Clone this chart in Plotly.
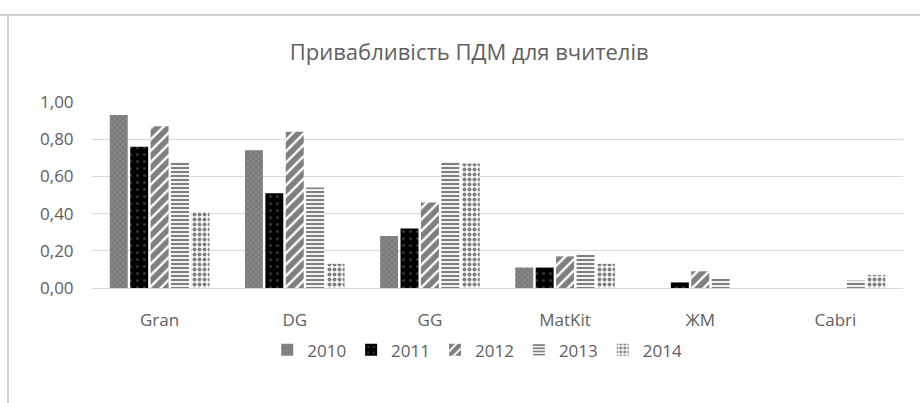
import plotly.graph_objects as go

categories = ["Gran", "DG", "GG", "MatKit", "ЖМ", "Cabri"]
years = ["2010", "2011", "2012", "2013", "2014"]
v2010 = [0.93, 0.74, 0.28, 0.11, 0.00, 0.00]
v2011 = [0.76, 0.51, 0.32, 0.11, 0.03, 0.00]
v2012 = [0.87, 0.84, 0.46, 0.17, 0.09, 0.00]
v2013 = [0.68, 0.54, 0.68, 0.18, 0.05, 0.04]
v2014 = [0.41, 0.13, 0.67, 0.13, 0.00, 0.07]
series = [v2010, v2011, v2012, v2013, v2014]

patterns = [
    dict(shape="x", bgcolor="#7a7a7a", fgcolor="#b0b0b0", size=4, solidity=0.3),
    dict(shape=".", bgcolor="#000000", fgcolor="#6a6a6a", size=7, solidity=0.15),
    dict(shape="/", bgcolor="#ffffff", fgcolor="#000000", size=8, solidity=0.7),
    dict(shape="-", bgcolor="#ffffff", fgcolor="#000000", size=4, solidity=0.55),
    dict(shape=".", bgcolor="#ffffff", fgcolor="#000000", size=5, solidity=0.5),
]

FONT = "Open Sans"
GRAY = "#606060"

fig = go.Figure()
for name, vals, pat in zip(years, series, patterns):
    fig.add_trace(go.Bar(
        x=categories, y=vals, name=name,
        marker=dict(pattern=pat, line=dict(width=0)),
    ))

fig.update_layout(
    width=920, height=403,
    margin=dict(l=92, r=17, t=102, b=115),
    paper_bgcolor="white", plot_bgcolor="white",
    separators=", ",
    barmode="group", bargap=0.245, bargroupgap=0.12,
    title=dict(text="Привабливість ПДМ для вчителів", x=0.51, xanchor="center",
               y=1 - 52 / 403, yanchor="middle",
               font=dict(family=FONT, size=22, color=GRAY)),
    font=dict(family=FONT, color=GRAY),
    legend=dict(orientation="h", x=0.475, xanchor="center", y=-0.335, yanchor="middle",
                font=dict(size=17, color=GRAY), itemwidth=30, traceorder="normal",
                tracegroupgap=0),
    showlegend=True,
)
fig.update_yaxes(range=[0, 1.0001], dtick=0.2, tickformat=".2f",
                 showgrid=True, gridcolor="#d9d9d9", gridwidth=1,
                 zeroline=False, showline=False,
                 ticks="outside", ticklen=14, tickcolor="rgba(0,0,0,0)",
                 tickfont=dict(size=17, color=GRAY))
fig.update_xaxes(showline=True, linecolor="#d9d9d9", linewidth=1,
                 ticks="outside", ticklen=17, tickcolor="rgba(0,0,0,0)",
                 tickfont=dict(size=17, color=GRAY))

# chart frame lines (top and left edges visible)
fig.add_shape(type="line", xref="paper", yref="paper", x0=-92/811, x1=1.1, y0=1 + 87/186, y1=1 + 87/186,
              line=dict(color="#d0d0d0", width=2))
fig.add_shape(type="line", xref="paper", yref="paper", x0=-84/811, x1=-84/811, y0=-1, y1=1 + 87/186,
              line=dict(color="#d0d0d0", width=2))

fig.write_html("out.html")
